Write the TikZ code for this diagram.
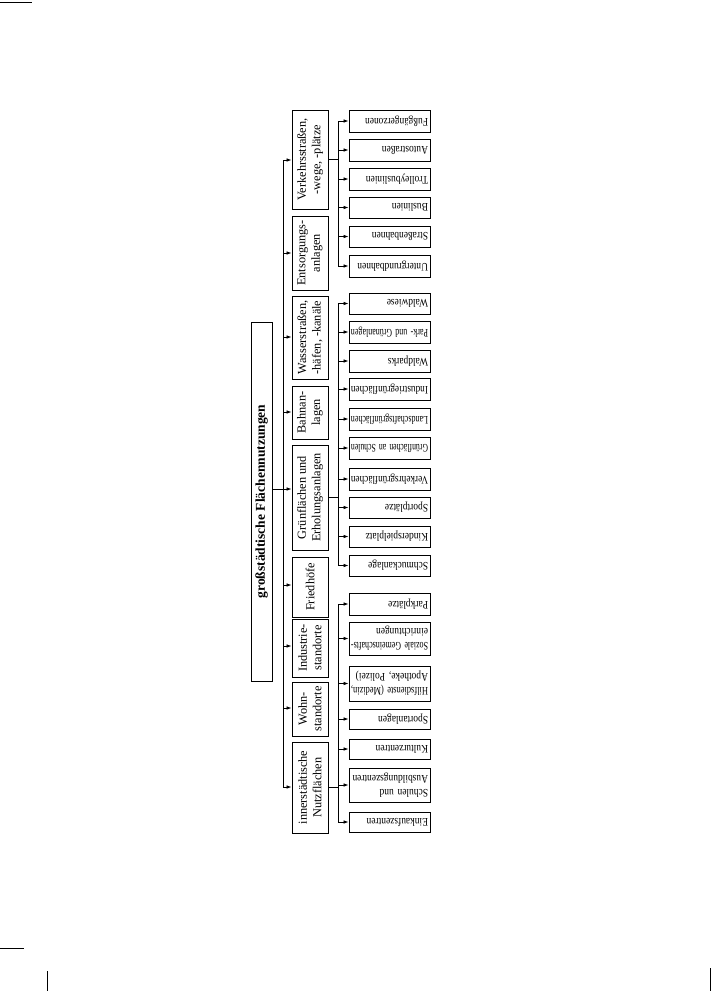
\documentclass[tikz,border=0pt]{standalone}
\usepackage{fontspec}
\usepackage{graphicx}
\setmainfont{Liberation Serif}
\newfontfamily\leaffont[FakeStretch=0.82]{Liberation Serif}
\usetikzlibrary{arrows.meta}
\newsavebox\fitbox
\newcommand\fittext[1]{\sbox\fitbox{#1}\ifdim\wd\fitbox>77pt\resizebox{77pt}{\height}{\usebox\fitbox}\else\usebox\fitbox\fi}
\begin{document}
\begin{tikzpicture}[x=1pt,y=-1pt,
  box/.style={draw, line width=0.8pt, inner ysep=0pt, inner xsep=2pt},
  leaf/.style={box, rotate=180, minimum width=81pt, text width=77pt, align=left, font=\leaffont\fontsize{11.5}{13.5}\selectfont},
  cat/.style={box, rotate=90, minimum height=36pt, align=center, font=\fontsize{12.3}{14.5}\selectfont},
  rootbox/.style={box, rotate=90, minimum height=21pt, minimum width=359pt, font=\bfseries\fontsize{13.5}{15}\selectfont},
  conn/.style={line width=0.7pt},
  arr/.style={conn, -{Latex[length=5pt,width=3.5pt]}},
  cropline/.style={line width=0.8pt}
]
\useasboundingbox (0,0) rectangle (711,991);
% crop marks
\draw[cropline] (0,2) coordinate (m1) -- (32,2) coordinate (m2);
\draw[cropline] (0,948) coordinate (m3) -- (24,948) coordinate (m4);
\draw[cropline] (47,971) coordinate (m5) -- (47,991) coordinate (m6);
\draw[cropline] (710,968) coordinate (m7) -- (710,991) coordinate (m8);

% root
\node[rootbox] (root) at (261.5,501.5) {großstädtische Flächennutzungen};

% categories
\node[cat, minimum width=99pt] (c1) at (310,159.5) {Verkehrsstraßen,\\-wege, -plätze};
\node[cat, minimum width=74pt] (c2) at (310,253) {Entsorgungs-\\anlagen};
\node[cat, minimum width=83pt] (c3) at (310,337.5) {Wasserstraßen,\\-häfen, -kanäle};
\node[cat, minimum width=53pt] (c4) at (310,412.5) {Bahnan-\\lagen};
\node[cat, minimum width=105pt] (c5) at (310,497.5) {Grünflächen und\\Erholungsanlagen};
\node[cat, minimum width=60pt] (c6) at (310,587) {Friedhöfe};
\node[cat, minimum width=58pt] (c7) at (310,648) {Industrie-\\standorte};
\node[cat, minimum width=54pt] (c8) at (310,709) {Wohn-\\standorte};
\node[cat, minimum width=91pt] (c9) at (310,787.5) {innerstädtische\\Nutzflächen};

% leaves group 1
\node[leaf, minimum height=22pt] (l1) at (389.5,121) {\fittext{Fußgängerzonen}};
\node[leaf, minimum height=22pt] (l2) at (389.5,150) {\fittext{Autostraßen}};
\node[leaf, minimum height=22pt] (l3) at (389.5,179) {\fittext{Trolleybuslinien}};
\node[leaf, minimum height=21pt] (l4) at (389.5,207.5) {\fittext{Buslinien}};
\node[leaf, minimum height=21pt] (l5) at (389.5,236.5) {\fittext{Straßenbahnen}};
\node[leaf, minimum height=22pt] (l6) at (389.5,266) {\fittext{Untergrundbahnen}};
% leaves group 2
\node[leaf, minimum height=21pt] (l7) at (389.5,303.5) {\fittext{Waldwiese}};
\node[leaf, minimum height=22pt] (l8) at (389.5,332) {\fittext{Park- und Grünanlagen}};
\node[leaf, minimum height=22pt] (l9) at (389.5,361) {\fittext{Waldparks}};
\node[leaf, minimum height=22pt] (l10) at (389.5,389) {\fittext{Industriegrünflächen}};
\node[leaf, minimum height=22pt] (l11) at (389.5,419) {\fittext{Landschaftsgrünflächen}};
\node[leaf, minimum height=22pt] (l12) at (389.5,448) {\fittext{Grünflächen an Schulen}};
\node[leaf, minimum height=22pt] (l13) at (389.5,479) {\fittext{Verkehrsgrünflächen}};
\node[leaf, minimum height=21pt] (l14) at (389.5,507.5) {\fittext{Sportplätze}};
\node[leaf, minimum height=21pt] (l15) at (389.5,536.5) {\fittext{Kinderspielplatz}};
\node[leaf, minimum height=21pt] (l16) at (389.5,565.5) {\fittext{Schmuckanlage}};
% leaves group 3
\node[leaf, minimum height=22pt] (l17) at (389.5,604) {\fittext{Parkplätze}};
\node[leaf, minimum height=33pt] (l18) at (389.5,638.5) {\fittext{Soziale Gemeinschafts-}\\\fittext{einrichtungen}};
\node[leaf, minimum height=35pt] (l19) at (389.5,683.5) {\fittext{Hilfsdienste (Medizin,}\\\fittext{Apotheke, Polizei)}};
\node[leaf, minimum height=20pt] (l20) at (389.5,719) {\fittext{Sportanlagen}};
\node[leaf, minimum height=20pt] (l21) at (389.5,749) {\fittext{Kulturzentren}};
\node[leaf, minimum height=34pt] (l22) at (389.5,785) {\fittext{Schulen und}\\\fittext{Ausbildungszentren}};
\node[leaf, minimum height=20pt] (l23) at (389.5,822) {\fittext{Einkaufszentren}};

% trunk coordinates
\coordinate (sx) at (338,0);
\coordinate (t1) at (283,160);
\coordinate (t2) at (283,253);
\coordinate (t3) at (283,337);
\coordinate (t4) at (283,412);
\coordinate (t5) at (283,489);
\coordinate (t6) at (283,585);
\coordinate (t7) at (283,646);
\coordinate (t8) at (283,708);
\coordinate (t9) at (283,787);

% main trunk
\draw[conn] (t1) -- (t9);
\draw[arr] (root.south |- t5) -- (t5 -| c5.north);
\foreach \i in {1,2,3,4,6,7,8,9}{
  \draw[arr] (t\i) -- (t\i -| c\i.north);
}

% group trunks
\draw[conn] (l1.east -| sx) -- (l6.east -| sx);
\draw[conn] (l7.east -| sx) -- (l16.east -| sx);
\draw[conn] (l17.east -| sx) -- (l23.east -| sx);
\draw[conn] (c1.south) -- (c1.south -| sx);
\draw[conn] (c5.south) -- (c5.south -| sx);
\draw[conn] (c9.south) -- (c9.south -| sx);
\foreach \i in {1,...,23}{
  \draw[arr] (l\i.east -| sx) -- (l\i.east);
}
\end{tikzpicture}
\end{document}
